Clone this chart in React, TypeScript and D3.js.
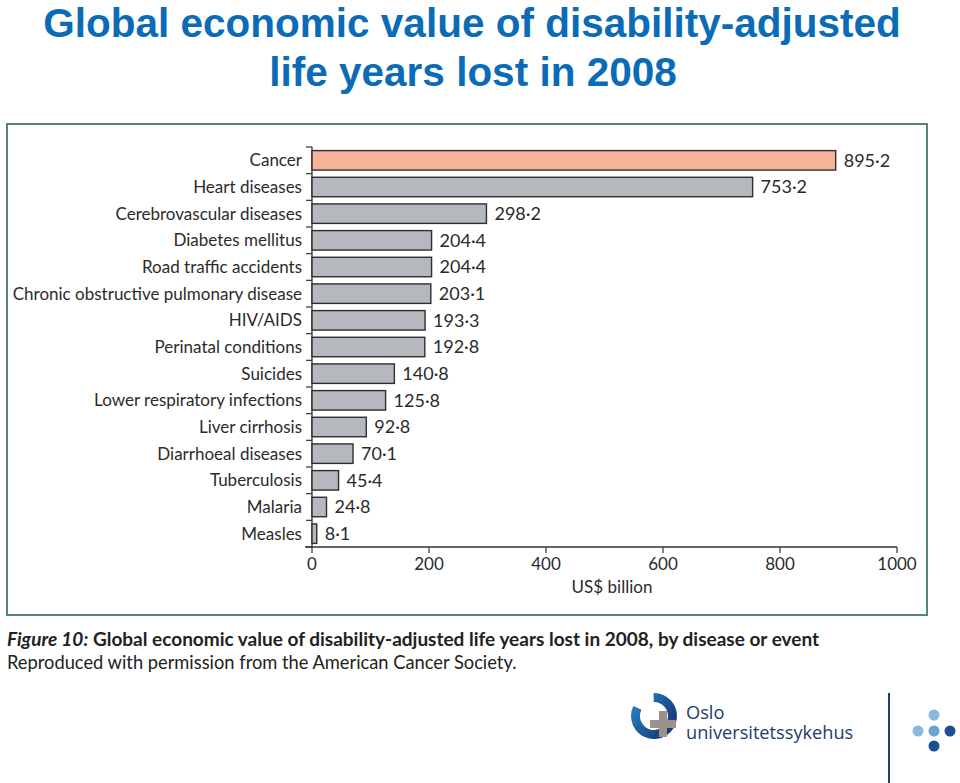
import React from "react";
import * as d3 from "d3";

const categories = [
  "Cancer",
  "Heart diseases",
  "Cerebrovascular diseases",
  "Diabetes mellitus",
  "Road traffic accidents",
  "Chronic obstructive pulmonary disease",
  "HIV/AIDS",
  "Perinatal conditions",
  "Suicides",
  "Lower respiratory infections",
  "Liver cirrhosis",
  "Diarrhoeal diseases",
  "Tuberculosis",
  "Malaria",
  "Measles",
];
const values = [895.2, 753.2, 298.2, 204.4, 204.4, 203.1, 193.3, 192.8, 140.8, 125.8, 92.8, 70.1, 45.4, 24.8, 8.1];
const xTicks = [0, 200, 400, 600, 800, 1000];

const W = 960;
const H = 783;
const FONT = "Lato, 'Open Sans', sans-serif";
const TEXT = "#2b2b2b";

export default function App() {
  const x = d3.scaleLinear().domain([0, 1000]).range([312, 897]);
  const y = d3.scaleBand<string>().domain(categories).range([147, 547]).paddingInner(0.27).paddingOuter(0.135);
  const step = y.step();
  const fmt = (v: number) => v.toFixed(1).replace(".", "·");

  const boundaries = d3.range(categories.length + 1).map((i) => 147 + i * step);

  return (
    <div style={{ position: "absolute", left: 0, top: 0 }}>
      <svg width={W} height={H} style={{ display: "block", background: "#fff" }}>
        {/* Title */}
        <g fill="#0a6cb7" fontFamily="'Liberation Sans', Arial, sans-serif" fontWeight="bold" fontSize={40.5} textAnchor="middle">
          <text x={472} y={37}>Global economic value of disability-adjusted</text>
          <text x={473} y={86}>life years lost in 2008</text>
        </g>

        {/* Frame */}
        <rect x={7} y={124} width={920} height={491} fill="none" stroke="#55847c" strokeWidth={2} />

        {/* Y axis line and ticks */}
        <line x1={312} x2={312} y1={147} y2={547} stroke="#333" strokeWidth={1.3} />
        {boundaries.map((b, i) => (
          <line key={i} x1={306} x2={312} y1={b} y2={b} stroke="#333" strokeWidth={1.2} />
        ))}

        {/* Bars */}
        {categories.map((c, i) => (
          <g key={c}>
            <rect
              x={x(0)}
              y={y(c)!}
              width={x(values[i]) - x(0)}
              height={y.bandwidth()}
              fill={i === 0 ? "#f8b39b" : "#b5b9bf"}
              stroke="#2e2e2e"
              strokeWidth={1.4}
            />
            <text
              x={302}
              y={y(c)! + y.bandwidth() / 2}
              dy="0.35em"
              textAnchor="end"
              fontFamily={FONT}
              fontSize={17}
              fill={TEXT}
            >
              {c}
            </text>
            <text
              x={x(values[i]) + 8}
              y={y(c)! + y.bandwidth() / 2}
              dy="0.35em"
              fontFamily={FONT}
              fontSize={18}
              fill={TEXT}
            >
              {fmt(values[i])}
            </text>
          </g>
        ))}

        {/* X axis */}
        <line x1={305} x2={x(1000)} y1={547} y2={547} stroke="#333" strokeWidth={1.3} />
        {xTicks.map((t) => (
          <g key={t}>
            <line x1={x(t)} x2={x(t)} y1={547} y2={553} stroke="#333" strokeWidth={1.2} />
            <text x={x(t)} y={570} textAnchor="middle" fontFamily={FONT} fontSize={17} fill={TEXT}>
              {t}
            </text>
          </g>
        ))}
        <text x={612} y={593} textAnchor="middle" fontFamily={FONT} fontSize={17} fill={TEXT}>
          US$ billion
        </text>

        {/* Caption */}
        <text x={7} y={646} fontFamily={FONT} fontSize={19} fill="#222">
          <tspan fontWeight="bold" fontStyle="italic">Figure 10:</tspan>
          <tspan fontWeight="bold"> Global economic value of disability-adjusted life years lost in 2008, by disease or event</tspan>
        </text>
        <text x={7} y={669} fontFamily={FONT} fontSize={18.3} fill="#222">
          Reproduced with permission from the American Cancer Society.
        </text>

        {/* Logo */}
        <defs>
          <linearGradient id="arcGrad" x1="0" y1="0" x2="1" y2="1">
            <stop offset="0%" stopColor="#2d8ccd" />
            <stop offset="60%" stopColor="#1c4f8f" />
            <stop offset="100%" stopColor="#152d5e" />
          </linearGradient>
        </defs>
        <path
          d={d3.arc()({ innerRadius: 14, outerRadius: 23, startAngle: Math.PI * 0.05, endAngle: Math.PI * 1.7 })!}
          transform="translate(654,716) rotate(-10)"
          fill="url(#arcGrad)"
        />
        <g fill="#9c9289">
          <rect x={659} y={711} width={8} height={26} />
          <rect x={650} y={720} width={26} height={8} />
        </g>
        <g fill="#1d3c70" fontFamily="'Open Sans', 'DejaVu Sans', sans-serif" fontSize={18.2}>
          <text x={686} y={719}>Oslo</text>
          <text x={686} y={739}>universitetssykehus</text>
        </g>
        <line x1={889} x2={889} y1={693} y2={783} stroke="#1d3c70" strokeWidth={2} />
        <g>
          <circle cx={934} cy={715} r={5.5} fill="#8ab7de" />
          <circle cx={918} cy={731} r={5.5} fill="#8ab7de" />
          <circle cx={934} cy={731} r={5.5} fill="#6aa3d6" />
          <circle cx={950} cy={731} r={5.5} fill="#1d4f97" />
          <circle cx={934} cy={746} r={5.5} fill="#1d4f97" />
        </g>
      </svg>
    </div>
  );
}
